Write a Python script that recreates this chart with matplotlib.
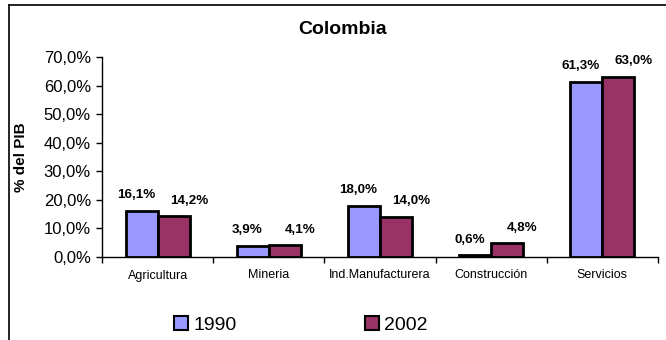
import matplotlib
matplotlib.use("Agg")
import matplotlib.pyplot as plt
import numpy as np
from matplotlib.lines import Line2D
from matplotlib.patches import Patch
from matplotlib.ticker import FuncFormatter

plt.rcParams['font.family'] = ['Liberation Sans', 'DejaVu Sans']

# PIB share by sector, Colombia
sectores = ['Agricultura', 'Mineria', 'Ind.Manufacturera', 'Construcción', 'Servicios']
pib_1990 = [16.1, 3.9, 18.0, 0.6, 61.3]
pib_2002 = [14.2, 4.1, 14.0, 4.8, 63.0]
years = ['1990', '2002']

c1990 = '#9999FF'
c2002 = '#993366'


def pct(v, pos=None):
    return '{:.1f}%'.format(v).replace('.', ',')


fig = plt.figure(figsize=(6.66, 3.40), dpi=100)
ax = fig.add_axes([102/666, 1 - 257/340, 556/666, 200/340])

x = np.arange(len(sectores))
w = 0.288
b1 = ax.bar(x - w/2, pib_1990, w, color=c1990, edgecolor='black', linewidth=2, zorder=3)
b2 = ax.bar(x + w/2, pib_2002, w, color=c2002, edgecolor='black', linewidth=2, zorder=3)

# value labels above bars
for rect, v in zip(b1, pib_1990):
    ax.annotate(pct(v), (rect.get_x() + rect.get_width()/2, v), xytext=(-4, 7),
                textcoords='offset points', ha='center', va='bottom',
                fontsize=9.6, fontweight='bold')
for rect, v in zip(b2, pib_2002):
    ax.annotate(pct(v), (rect.get_x() + rect.get_width()/2, v), xytext=(11, 7),
                textcoords='offset points', ha='center', va='bottom',
                fontsize=9.6, fontweight='bold')

ax.set_xlim(-0.5, len(sectores) - 0.5)
ax.set_ylim(0, 70)
ax.set_yticks(np.arange(0, 71, 10))
ax.yaxis.set_major_formatter(FuncFormatter(pct))
ax.tick_params(axis='y', labelsize=12, length=4, width=1, direction='out', pad=4)

ax.set_xticks(x)
ax.set_xticklabels(sectores, fontsize=9)
ax.set_xticks(np.arange(-0.5, len(sectores)), minor=True)
ax.tick_params(axis='x', which='major', length=0, pad=9)
ax.tick_params(axis='x', which='minor', length=4, width=1, direction='out')

for s in ['top', 'right']:
    ax.spines[s].set_visible(False)
for s in ['left', 'bottom']:
    ax.spines[s].set_linewidth(1)

ax.set_ylabel('% del PIB', fontsize=11, fontweight='bold')
ax.yaxis.set_label_coords(-0.133, 0.5)

fig.text(343/666, 1 - 30/340, 'Colombia', ha='center', va='center',
         fontsize=14, fontweight='bold')

# outer chart frame
fig.add_artist(Line2D([9/666, 9/666], [0, 1 - 5/340], color='black', lw=1.2,
                      transform=fig.transFigure))
fig.add_artist(Line2D([9/666, 1], [1 - 5/340, 1 - 5/340], color='black', lw=1.2,
                      transform=fig.transFigure))

handles = [Patch(facecolor=c1990, edgecolor='black', linewidth=1.5),
           Patch(facecolor=c2002, edgecolor='black', linewidth=1.5)]
fig.legend(handles, years, loc='center', bbox_to_anchor=(301/666, 1 - 325/340),
           ncol=2, frameon=False, fontsize=14, handlelength=0.72, handleheight=0.72,
           handletextpad=0.26, columnspacing=6.6, borderpad=0)

fig.savefig('out.png', dpi=100)
